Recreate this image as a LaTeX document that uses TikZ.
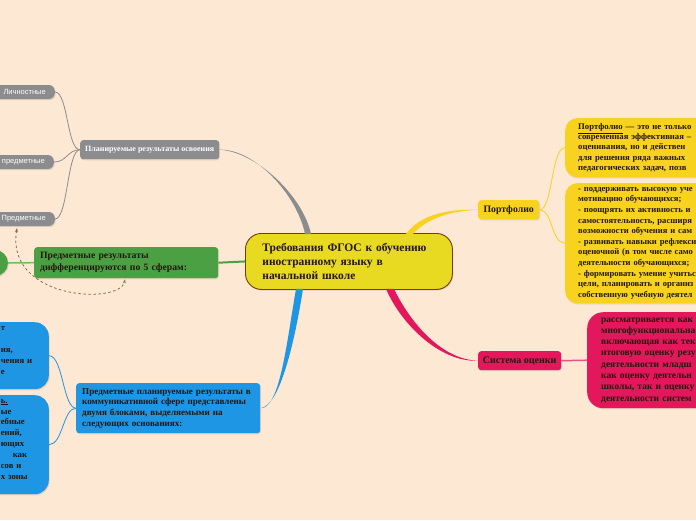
\documentclass[tikz,border=0pt]{standalone}
\usepackage{fontspec}
\setmainfont{Liberation Serif}
\setsansfont{Liberation Sans}
\usetikzlibrary{calc,shadows,arrows.meta}
\definecolor{bg}{RGB}{253,232,211}
\definecolor{cyel}{RGB}{232,218,32}
\definecolor{cbrd}{RGB}{110,62,20}
\definecolor{cgray}{RGB}{140,140,143}
\definecolor{cgreen}{RGB}{74,160,67}
\definecolor{cgreenl}{RGB}{110,190,95}
\definecolor{cblue}{RGB}{30,150,228}
\definecolor{pyel}{RGB}{247,210,30}
\definecolor{ccrim}{RGB}{227,24,92}
\definecolor{ctext}{RGB}{35,22,12}
\definecolor{cdash}{RGB}{140,105,75}
\newcommand\blpad{\hspace*{30pt}}
\tikzset{
  shad/.style={drop shadow={opacity=0.22,shadow xshift=0.8pt,shadow yshift=-1.2pt}},
  box/.style={rounded corners=3pt, inner ysep=0pt, text=ctext, shad},
  centralbox/.style={box, fill=cyel, draw=cbrd, line width=0.9pt, rounded corners=16pt,
    font=\fontsize{11.5}{14}\selectfont\bfseries, align=left, drop shadow={opacity=0}},
  graybox/.style={box, fill=cgray, text=white, font=\fontsize{8}{9}\selectfont\bfseries},
  grayleaf/.style={box, fill=cgray, text=white, rounded corners=6pt, inner xsep=9pt,
    minimum height=14pt, font=\sffamily\fontsize{7.5}{9}\selectfont},
  greenbox/.style={box, fill=cgreen, align=left, font=\fontsize{9.7}{12}\selectfont\bfseries},
  bluebox/.style={box, fill=cblue, align=left, font=\fontsize{9.1}{10.6}\selectfont\bfseries},
  blueleaf/.style={box, fill=cblue, rounded corners=14pt, align=left, inner xsep=2pt,
    text width=76pt, font=\fontsize{8.7}{10.9}\selectfont\bfseries},
  yelbox/.style={box, fill=pyel, font=\fontsize{9.8}{11}\selectfont\bfseries},
  yelleaf/.style={box, fill=pyel, rounded corners=12pt, align=left, inner xsep=13pt,
    text width=200pt},
  crimbox/.style={box, fill=ccrim, font=\fontsize{10}{11}\selectfont\bfseries},
  crimleaf/.style={box, fill=ccrim, rounded corners=16pt, align=left, inner xsep=14pt,
    text width=200pt, font=\fontsize{9.5}{11.3}\selectfont\bfseries},
  thinlink/.style={line width=0.8pt},
  dashlink/.style={cdash, line width=0.8pt, dash pattern=on 2.5pt off 2.5pt,
    {Stealth[length=4pt,width=3pt]}-{Stealth[length=4pt,width=3pt]}},
}
\begin{document}
\begin{tikzpicture}[x=1pt,y=-1pt]
\fill[bg] (0,0) rectangle (696,520);
\useasboundingbox (0,0) rectangle (696,520);

% central
\node[centralbox, anchor=north west, text width=173pt, inner xsep=17pt, minimum height=56pt] (c) at (245,233)
  {Требования ФГОС к обучению\\иностранному языку в\\начальной школе};

% gray branch
\node[graybox, anchor=north west, minimum width=139pt, minimum height=19pt] (g) at (80,140)
  {Планируемые результаты освоения};
\node[grayleaf, anchor=east] (l1) at (55,92) {Личностные};
\node[grayleaf, anchor=east] (l2) at (54,162) {предметные};
\node[grayleaf, anchor=east] (l3) at (55,219) {Предметные};

% green branch
\node[greenbox, anchor=north west, text width=172pt, inner xsep=6pt, minimum height=31pt] (gr) at (34,247)
  {Предметные результаты\\дифференцируются по 5 сферам:};
\node[circle, fill=cgreen, minimum size=26pt, inner sep=0pt, shad] (gc) at (-5,263) {};

% blue branch
\node[bluebox, anchor=north west, text width=172pt, inner xsep=6pt, minimum height=50pt] (b) at (76,383)
  {Предметные планируемые результаты в\\коммуникативной сфере представлены\\двумя блоками, выделяемыми на\\следующих основаниях:};
\node[blueleaf, anchor=north east, minimum height=67pt] (bl1) at (49,322)
  {\blpad т\\\blpad\mbox{}\\\blpad ия,\\\blpad чения и\\\blpad е\\\mbox{}};
\node[blueleaf, anchor=north east, minimum height=99pt] (bl2) at (49,395)
  {\blpad\underline{ь.}\\\blpad ые\\\blpad ебные\\\blpad ений,\\\blpad ющих\\\blpad\hspace*{12pt}как\\\blpad сов и\\\blpad х зоны\\\mbox{}};

% portfolio branch
\node[yelbox, anchor=north west, minimum width=61pt, minimum height=19pt] (p) at (478,200) {Портфолио};
\node[yelleaf, anchor=north west, minimum height=59pt, font=\fontsize{8.7}{10.1}\selectfont\bfseries] (pl1) at (565,118)
  {\underline{Портфолио} — это не только\\современная эффективная –\\оценивания, но и действен\\для решения ряда важных\\педагогических задач, позв};
\node[yelleaf, anchor=north west, minimum height=120pt, font=\fontsize{8.6}{10.6}\selectfont\bfseries] (pl2) at (565,183)
  {- поддерживать высокую уче\\мотивацию обучающихся;\\- поощрять их активность и\\самостоятельность, расширя\\возможности обучения и сам\\- развивать навыки рефлекси\\оценочной (в том числе само\\деятельности обучающихся;\\- формировать умение учитьс\\цели, планировать и организ\\собственную учебную деятел};

% assessment branch
\node[crimbox, anchor=north west, minimum width=83pt, minimum height=19pt] (s) at (478,351) {Система оценки};
\node[crimleaf, anchor=north west, minimum height=96pt] (cl) at (587,312)
  {рассматривается как\\многофункциональна\\включающая как тек\\итоговую оценку резу\\деятельности младш\\как оценку деятельн\\школы, так и оценку\\деятельности систем};

% tapered main connectors
\fill[cgray] ($(c.north west)+(60,1)$) .. controls (297,195) and (255,148.5) .. (g.east)
  .. controls (256,151.5) and (303,196) .. ($(c.north west)+(66,1)$) -- cycle;
\fill[pyel] ($(c.north west)+(161,1)$) .. controls (421,213.5) and (450,209) .. (p.west)
  .. controls (450,211) and (427,218.5) .. ($(c.north west)+(168,1)$) -- cycle;
\fill[ccrim] ($(c.south west)+(141,-1)$) .. controls (401,324) and (440,362.5) .. (s.west)
  .. controls (440,359.5) and (409,320) .. ($(c.south west)+(149,-1)$) -- cycle;
\fill[cblue] ($(c.south west)+(51,-1)$) .. controls (287,340) and (280,409.5) .. (b.east)
  .. controls (280,406.5) and (295,340) .. ($(c.south west)+(58,-1)$) -- cycle;
\draw[cgreen, line width=2pt] (c.west) -- (gr.east);

% thin connectors
\draw[cgray, thinlink] (g.west) .. controls (67,150) and (68,92) .. (l1.east);
\draw[cgray, thinlink] (g.west) .. controls (67,150) and (67,162) .. (l2.east);
\draw[cgray, thinlink] (g.west) .. controls (67,150) and (68,219) .. (l3.east);
\draw[cgreenl, line width=1.5pt] (gr.west) -- (gc.east);
\draw[cblue, thinlink] (b.west) .. controls (63,408) and (63,355.5) .. (bl1.east);
\draw[cblue, thinlink] (b.west) .. controls (63,408) and (63,444.5) .. (bl2.east);
\draw[pyel, thinlink] (p.east) .. controls (553,210) and (551,147.5) .. (pl1.west);
\draw[pyel, thinlink] (p.east) .. controls (553,210) and (551,243) .. (pl2.west);
\draw[ccrim!75, line width=1.5pt] (s.east) -- (cl.west);

% dashed relation
\draw[dashlink] ($(l3.south east)+(-38,2)$) .. controls (5,300) and (120,305) .. ($(gr.south west)+(91,1)$);
\end{tikzpicture}
\end{document}
